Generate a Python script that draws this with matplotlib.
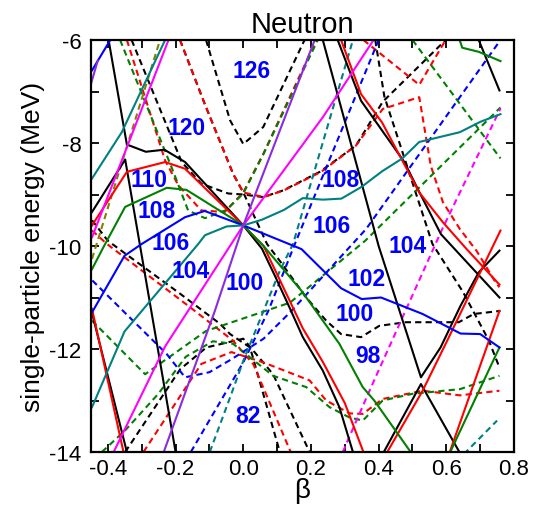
import matplotlib
matplotlib.use("Agg")
import matplotlib.pyplot as plt

# Nilsson-type single-particle levels.
# Each entry is (beta values, energies in MeV) of one orbital.

black_solid = [
    ([-0.398, -0.344, -0.288, -0.233, -0.172, 0.0, 0.055, 0.095, 0.137, 0.176, 0.235, 0.284, 0.324],
     [-6.0, -8.03, -8.17, -8.13, -8.37, -9.6, -10.05, -10.6, -11.2, -11.77, -12.42, -13.13, -14.0]),
    ([-0.447, -0.349, -0.2], [-9.34, -8.32, -14.0]),
    ([-0.447, -0.344], [-11.3, -14.0]),
    ([0.279, 0.348, 0.476, 0.52, 0.584, 0.757], [-6.0, -7.18, -8.37, -8.95, -9.77, -11.0]),
    ([0.235, 0.40, 0.525, 0.583, 0.642, 0.696, 0.757],
     [-6.0, -10.0, -12.55, -11.97, -11.16, -10.51, -10.09]),
    ([0.412, 0.525, 0.642], [-14.04, -12.68, -14.04]),
    ([0.68, 0.757], [-5.75, -6.98]),
]

red_solid = [
    ([-0.447, -0.344, -0.231, -0.172, 0.0, 0.06, 0.1, 0.176, 0.235, 0.3, 0.355],
     [-9.6, -8.56, -8.37, -8.5, -9.6, -10.0, -10.55, -11.6, -12.25, -13.05, -14.0]),
    ([-0.447, -0.354], [-11.22, -14.0]),
    ([0.289, 0.348, 0.41, 0.52, 0.59, 0.66, 0.757], [-6.0, -7.05, -7.6, -8.96, -9.54, -10.06, -10.75]),
    ([0.422, 0.53, 0.598, 0.76], [-14.04, -12.81, -11.9, -9.7]),
    ([0.608, 0.757], [-14.04, -11.26]),
]

green_solid = [
    ([-0.447, -0.413, -0.349, -0.226, -0.168, 0.0, 0.06, 0.118, 0.172, 0.284, 0.353, 0.387, 0.5],
     [-10.45, -10.02, -9.24, -8.87, -8.91, -9.6, -10.0, -10.45, -10.87, -11.9, -12.74, -13.0, -14.05]),
    ([0.608, 0.757], [-14.05, -11.97]),
    ([0.637, 0.647, 0.696, 0.76], [-5.95, -6.15, -6.23, -6.41]),
]

blue_solid = [
    ([-0.447, -0.351, -0.3, -0.172, -0.114, 0.0, 0.172, 0.289, 0.35, 0.407, 0.53, 0.642, 0.7, 0.757],
     [-11.29, -10.19, -9.96, -9.44, -9.32, -9.6, -10.06, -10.82, -11.03, -11.0, -11.32, -11.7, -11.71, -11.97]),
    ([-0.447, -0.393], [-6.59, -6.0]),
]

teal_solid = [
    ([-0.447, -0.351, -0.133, -0.113, -0.049, 0.0, 0.055, 0.12, 0.176, 0.235, 0.29, 0.35, 0.41,
      0.47, 0.52, 0.64, 0.7, 0.76],
     [-13.13, -11.66, -9.96, -9.79, -9.62, -9.6, -9.49, -9.3, -9.07, -9.1, -9.08, -8.85, -8.55,
      -8.3, -7.98, -7.79, -7.59, -7.44]),
    ([-0.447, -0.359, -0.231], [-8.69, -7.79, -6.0]),
]

magenta_solid = [
    ([-0.447, -0.221], [-9.83, -6.0]),
    ([-0.383, -0.231, 0.0, 0.235, 0.385], [-14.0, -11.95, -9.6, -7.5, -6.0]),
]

purple_solid = [
    ([-0.235, -0.084, 0.0, 0.211], [-14.0, -11.26, -9.6, -6.0]),
    ([-0.45, -0.43], [-6.85, -6.4]),
]

black_dashed = [
    ([-0.11, -0.039, 0.0, 0.059, 0.181], [-6.0, -7.56, -8.02, -7.69, -6.0]),
    ([-0.187, -0.114, -0.03, 0.0, 0.07, 0.108, 0.186, 0.245, 0.289, 0.348, 0.402, 0.48, 0.637, 0.681, 0.76],
     [-6.0, -7.24, -8.6, -8.96, -9.96, -10.29, -11.0, -11.45, -11.71, -11.77, -11.55, -11.48, -11.48,
      -11.32, -11.26]),
    ([-0.33, -0.182, -0.124, -0.045, 0.0, 0.059, 0.118, 0.226, 0.333, 0.412, 0.598],
     [-6.0, -8.37, -8.79, -8.98, -9.0, -9.05, -8.92, -8.56, -8.05, -7.2, -6.0]),
    ([0.39, 0.417, 0.48, 0.559, 0.65, 0.726, 0.757], [-6.0, -7.1, -8.37, -9.96, -10.9, -11.84, -12.36]),
    ([-0.447, -0.4, -0.186, -0.069, -0.039, 0.02, 0.108], [-9.5, -9.9, -10.93, -11.51, -11.71, -11.97, -14.0]),
    ([-0.349, -0.186, -0.109, 0.0, 0.088, 0.196], [-14.0, -12.39, -11.97, -11.8, -12.49, -14.0]),
]

red_dashed = [
    ([-0.344, -0.231, -0.192, -0.124, -0.055, 0.0, 0.06, 0.216],
     [-6.0, -8.34, -8.82, -9.31, -9.34, -8.96, -8.2, -6.0]),
    ([-0.187, -0.114, -0.03, 0.0, 0.06, 0.12, 0.23, 0.333, 0.412, 0.52, 0.554, 0.59, 0.64, 0.69, 0.745, 0.757],
     [-6.0, -7.24, -8.6, -8.96, -9.05, -8.92, -8.56, -8.05, -7.34, -7.11, -8.44, -9.15, -9.67, -10.1,
      -10.7, -10.8]),
    ([0.355, 0.52, 0.598], [-6.0, -6.87, -6.0]),
    ([-0.447, -0.403, -0.163, -0.03, 0.03, 0.14], [-9.7, -9.96, -11.16, -11.84, -12.3, -14.0]),
    ([-0.295, -0.124, -0.035, 0.059, 0.196, 0.245, 0.314, 0.353, 0.412, 0.53, 0.64, 0.757],
     [-14.0, -12.29, -12.06, -12.26, -12.61, -13.0, -13.25, -13.26, -12.97, -12.81, -12.9, -12.81]),
]

green_dashed = [
    ([-0.364, -0.212, -0.163, -0.113, -0.05, 0.0, 0.06, 0.13, 0.22],
     [-6.0, -8.47, -9.31, -9.46, -9.3, -8.98, -8.21, -7.24, -6.0]),
    ([-0.447, -0.29, -0.11, 0.138, 0.36, 0.76], [-11.45, -12.49, -11.65, -11.1, -9.9, -7.31]),
    ([-0.418, -0.349, -0.251, -0.17, -0.09, -0.03, 0.088, 0.186, 0.255, 0.314, 0.353, 0.412, 0.5, 0.64, 0.757],
     [-14.0, -13.58, -12.87, -12.15, -11.85, -11.9, -12.52, -12.74, -13.13, -13.33, -13.39, -13.0, -12.87,
      -12.78, -12.52]),
    ([0.5, 0.76], [-6.0, -8.3]),
]

blue_dashed = [
    ([-0.446, -0.226, -0.172, -0.1, -0.035, 0.06, 0.138, 0.363, 0.76],
     [-10.67, -12.1, -12.55, -12.45, -12.2, -11.8, -11.29, -9.67, -6.0]),
    ([-0.155, 0.0, 0.074, 0.15, 0.40], [-14.0, -12.26, -11.26, -10.0, -6.0]),
]

teal_dashed = [
    ([-0.099, -0.039, 0.0, 0.108, 0.147, 0.324], [-14.0, -12.94, -12.23, -10.48, -9.96, -6.0]),
    ([0.652, 0.75], [-14.04, -13.39]),
]

magenta_dashed = [
    ([0.294, 0.373, 0.588, 0.76], [-14.0, -12.81, -9.67, -7.33]),
]

olive_dashed = [
    ([-0.447, -0.246], [-10.25, -6.0]),
]

# shell-gap particle numbers
gap_labels = ["126", "120", "110", "108", "106", "104", "100", "82",
              "108", "106", "104", "102", "100", "98"]
gap_beta = [0.025, -0.167, -0.28, -0.255, -0.216, -0.157, 0.005, 0.015,
            0.289, 0.26, 0.485, 0.363, 0.328, 0.368]
gap_energy = [-6.59, -7.69, -8.70, -9.31, -9.93, -10.48, -10.71, -13.30,
              -8.70, -9.61, -9.99, -10.64, -11.32, -12.13]


def draw_levels(ax, levels, color, dashed=False):
    ls = (0, (3, 2)) if dashed else "-"
    for betas, energies in levels:
        ax.plot(betas, energies, color=color, linestyle=ls, linewidth=1.5)


plt.rc("font", family="Liberation Sans", size=16)
plt.rc("axes", linewidth=1.6, unicode_minus=False)

fig = plt.figure(figsize=(5.38, 5.06), dpi=100)
ax = fig.add_axes([91 / 538, 1 - 453 / 506, 423 / 538, 412 / 506])

draw_levels(ax, black_dashed, "black", dashed=True)
draw_levels(ax, red_dashed, "#ff0000", dashed=True)
draw_levels(ax, green_dashed, "#008000", dashed=True)
draw_levels(ax, blue_dashed, "#0000ff", dashed=True)
draw_levels(ax, teal_dashed, "#008080", dashed=True)
draw_levels(ax, magenta_dashed, "#ff00ff", dashed=True)
draw_levels(ax, olive_dashed, "#808000", dashed=True)

draw_levels(ax, black_solid, "black")
draw_levels(ax, red_solid, "#ff0000")
draw_levels(ax, green_solid, "#008000")
draw_levels(ax, blue_solid, "#0000ff")
draw_levels(ax, teal_solid, "#008080")
draw_levels(ax, magenta_solid, "#ff00ff")
draw_levels(ax, purple_solid, "#8a2be2")

for txt, b, e in zip(gap_labels, gap_beta, gap_energy):
    ax.text(b, e, txt, color="#0000ff", fontsize=16.5, fontweight="bold",
            ha="center", va="center")

ax.set_xlim(-0.45, 0.8)
ax.set_ylim(-14, -6)
ax.set_xticks([-0.4, -0.2, 0.0, 0.2, 0.4, 0.6, 0.8])
ax.set_xticklabels(["-0.4", "-0.2", "0.0", "0.2", "0.4", "0.6", "0.8"])
ax.set_xticks([-0.3, -0.1, 0.1, 0.3, 0.5, 0.7], minor=True)
ax.set_yticks([-14, -12, -10, -8, -6])
ax.set_yticks([-13, -11, -9, -7], minor=True)
ax.tick_params(which="both", direction="in", top=True, right=True, length=5.5, width=1.3)
ax.tick_params(axis="x", pad=4)
ax.tick_params(axis="y", pad=7)

ax.set_title("Neutron", fontsize=21, pad=6)
ax.set_xlabel("β", fontsize=20, labelpad=-1)
ax.set_ylabel("single-particle energy (MeV)", fontsize=19, labelpad=3)

fig.savefig("out.png", dpi=100)
